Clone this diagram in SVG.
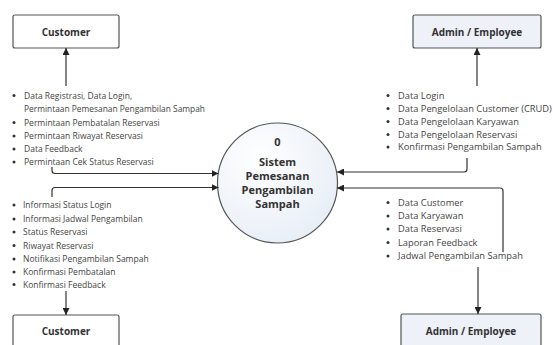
<svg xmlns="http://www.w3.org/2000/svg" width="553" height="345" viewBox="0 0 553 345">
<style>
.box{stroke:#555;stroke-width:1.2}
.white{fill:#ffffff}
.blue{fill:#eef1f7}
.nt{font-family:"Open Sans","DejaVu Sans",sans-serif;font-weight:bold;font-size:10px;fill:#333;text-anchor:middle}
.ct{font-family:"Open Sans","DejaVu Sans",sans-serif;font-weight:bold;font-size:11px;fill:#333;text-anchor:middle}
.li{font-family:"Open Sans","DejaVu Sans",sans-serif;font-size:8.5px;fill:#444}
.ri{font-family:"Open Sans","DejaVu Sans",sans-serif;font-size:9.3px;fill:#444}
.bul{fill:#333}
.con{fill:none;stroke:#333;stroke-width:1.2}
</style>
<defs>
<marker id="ah" viewBox="0 0 10 10" refX="10" refY="5" markerWidth="7" markerHeight="7" markerUnits="userSpaceOnUse" orient="auto">
<path d="M0,0 L10,5 L0,10 z" fill="#222"/>
</marker>
<radialGradient id="cg" cx="0.35" cy="0.3" r="0.8">
<stop offset="0" stop-color="#ffffff"/>
<stop offset="1" stop-color="#e6edf6"/>
</radialGradient>
</defs>
<rect width="553" height="345" fill="#ffffff"/>

<g id="customer-top">
<rect class="box white" x="13" y="15" width="106" height="33" rx="2"/>
<text class="nt" x="66" y="35.5">Customer</text>
</g>
<g id="admin-top">
<rect class="box blue" x="413" y="15" width="128" height="33" rx="2"/>
<text class="nt" x="477" y="35.5">Admin / Employee</text>
</g>
<g id="process">
<circle cx="277.5" cy="183" r="60" fill="url(#cg)" stroke="#555" stroke-width="1.2"/>
<text class="ct" x="277.5" y="146">0</text>
<text class="ct" x="277.5" y="166">Sistem</text>
<text class="ct" x="277.5" y="180">Pemesanan</text>
<text class="ct" x="277.5" y="194">Pengambilan</text>
<text class="ct" x="277.5" y="208">Sampah</text>
</g>
<g id="customer-bottom">
<rect class="box white" x="13" y="315" width="106" height="36" rx="2"/>
<text class="nt" x="66" y="335">Customer</text>
</g>
<g id="admin-bottom">
<rect class="box blue" x="401" y="314" width="140" height="37" rx="2"/>
<text class="nt" x="471" y="334.5">Admin / Employee</text>
</g>

<g id="list-customer-in">
<circle class="bul" cx="14" cy="95.5" r="1.5"/>
<text class="li" x="24" y="98.5">Data Registrasi, Data Login,</text>
<text class="li" x="24" y="112" font-size="8" textLength="181" lengthAdjust="spacingAndGlyphs">Permintaan Pemesanan Pengambilan Sampah</text>
<circle class="bul" cx="14" cy="122.5" r="1.5"/>
<text class="li" x="24" y="125.5">Permintaan Pembatalan Reservasi</text>
<circle class="bul" cx="14" cy="136" r="1.5"/>
<text class="li" x="24" y="139">Permintaan Riwayat Reservasi</text>
<circle class="bul" cx="14" cy="149" r="1.5"/>
<text class="li" x="24" y="152">Data Feedback</text>
<circle class="bul" cx="14" cy="162" r="1.5"/>
<text class="li" x="24" y="165">Permintaan Cek Status Reservasi</text>
</g>
<g id="list-customer-out">
<circle class="bul" cx="14" cy="205" r="1.5"/>
<text class="li" x="23" y="208">Informasi Status Login</text>
<circle class="bul" cx="14" cy="219" r="1.5"/>
<text class="li" x="23" y="222">Informasi Jadwal Pengambilan</text>
<circle class="bul" cx="14" cy="232" r="1.5"/>
<text class="li" x="23" y="235">Status Reservasi</text>
<circle class="bul" cx="14" cy="245.5" r="1.5"/>
<text class="li" x="23" y="248.5">Riwayat Reservasi</text>
<circle class="bul" cx="14" cy="259" r="1.5"/>
<text class="li" x="23" y="262">Notifikasi Pengambilan Sampah</text>
<circle class="bul" cx="14" cy="272" r="1.5"/>
<text class="li" x="23" y="275">Konfirmasi Pembatalan</text>
<circle class="bul" cx="14" cy="284.5" r="1.5"/>
<text class="li" x="23" y="287.5">Konfirmasi Feedback</text>
</g>
<g id="list-admin-in">
<circle class="bul" cx="388" cy="95.5" r="1.5"/>
<text class="ri" x="398" y="98.5">Data Login</text>
<circle class="bul" cx="388" cy="108.5" r="1.5"/>
<text class="ri" x="398" y="111.5">Data Pengelolaan Customer (CRUD)</text>
<circle class="bul" cx="388" cy="121.5" r="1.5"/>
<text class="ri" x="398" y="124.5">Data Pengelolaan Karyawan</text>
<circle class="bul" cx="388" cy="134.5" r="1.5"/>
<text class="ri" x="398" y="137.5">Data Pengelolaan Reservasi</text>
<circle class="bul" cx="388" cy="147" r="1.5"/>
<text class="ri" x="398" y="150">Konfirmasi Pengambilan Sampah</text>
</g>
<g id="list-admin-out">
<circle class="bul" cx="388" cy="202.5" r="1.5"/>
<text class="ri" x="398" y="205.5">Data Customer</text>
<circle class="bul" cx="388" cy="216" r="1.5"/>
<text class="ri" x="398" y="219">Data Karyawan</text>
<circle class="bul" cx="388" cy="229" r="1.5"/>
<text class="ri" x="398" y="232">Data Reservasi</text>
<circle class="bul" cx="388" cy="242.5" r="1.5"/>
<text class="ri" x="398" y="245.5">Laporan Feedback</text>
<circle class="bul" cx="388" cy="256" r="1.5"/>
<text class="ri" x="398" y="259">Jadwal Pengambilan Sampah</text>
</g>

<g id="connectors">
<path class="con" d="M66,86 V48" marker-end="url(#ah)"/>
<path class="con" d="M477,86 V48" marker-end="url(#ah)"/>
<path class="con" d="M52,167 V170.5 Q52,173.5 55,173.5 H218.5" marker-end="url(#ah)"/>
<path class="con" d="M52,197 V190.5 Q52,187.5 55,187.5 H218.5" marker-end="url(#ah)"/>
<path class="con" d="M467,158 V169 Q467,172 464,172 H337" marker-end="url(#ah)"/>
<path class="con" d="M503,252 V191 Q503,188 500,188 H337" marker-end="url(#ah)"/>
<path class="con" d="M66,291 V315" marker-end="url(#ah)"/>
<path class="con" d="M478,267 V314" marker-end="url(#ah)"/>
</g>
</svg>
